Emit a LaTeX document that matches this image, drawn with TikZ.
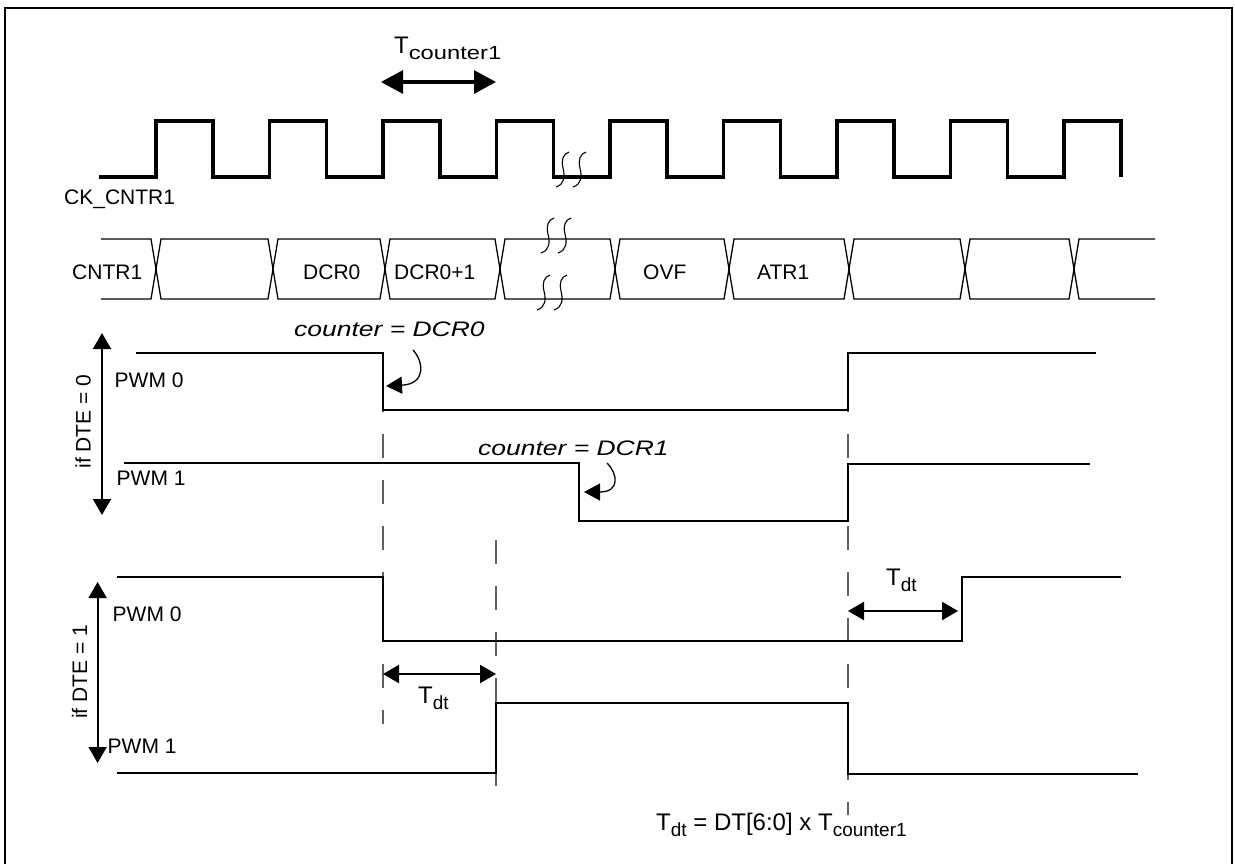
\documentclass[tikz,border=0pt]{standalone}
\usepackage{fontspec}
\setmainfont{Liberation Sans}
\usepackage{graphicx}
\usepackage{tikz}
\usetikzlibrary{arrows.meta, positioning, calc}
\definecolor{guidegray}{RGB}{95, 95, 95}
\newcommand{\lowsub}[1]{\raisebox{-6.5pt}{\fontsize{19}{22}\selectfont #1}}

\begin{document}
\begin{tikzpicture}[x=1pt, y=-1pt,
  clkline/.style={line width=3.3pt},
  sigline/.style={line width=2.2pt},
  busline/.style={line width=1.3pt},
  guideline/.style={guidegray, line width=1.6pt, dash pattern=on 24pt off 22pt},
  dimarrow/.style={line width=2.4pt, >={Triangle[length=16pt, width=18pt]}, <->},
  dimthick/.style={line width=3.3pt, >={Triangle[length=22pt, width=23pt]}, <->},
  dtearrow/.style={line width=1.8pt, >={Triangle[length=16pt, width=18pt]}, <->},
  curlyarrow/.style={line width=1.3pt, >={Triangle[length=16pt, width=17pt]}, ->},
  lbl/.style={inner sep=0pt, anchor=base west, font=\fontsize{21}{25}\selectfont},
  tlbl/.style={inner sep=0pt, anchor=base west, font=\fontsize{24}{28}\selectfont},
  brk/.pic={\draw[line width=1.1pt] (6,-18) .. controls (0,-16) and (-2,-10) .. (0,-2) .. controls (2,6) and (2,14) .. (-7,17);}
]
  \useasboundingbox[fill=white] (0,0) rectangle (1235,863);
  \draw[line width=2pt] (5,880) -- (5,8) -- (1232,8) -- (1232,880);

  % clock
  \draw[clkline] (99,177) \foreach \r in {156,269.5,383,496.5,610,723.5,837,950.5,1064} { -- (\r,177) -- (\r,121) -- (\r+57,121) -- (\r+57,177) };
  \node[lbl] (ckname) at (64,204) {CK\_CNTR1};
  \node[tlbl] (tcnt) at (394,53) {T\lowsub{\scalebox{1.25}[1]{counter1}}};
  \coordinate (tcl) at (381,82);
  \coordinate (tcr) at (496,82);
  \draw[dimthick] (tcl) -- (tcr);

  % counter bus
  \draw[busline] (101,239) -- (151,239) -- (156,269) -- (151,299) -- (101,299);
  \foreach \a/\b in {156/273, 273/385, 385/500, 500/615, 615/729, 729/849, 849/965, 965/1074}
    \draw[busline] (\a,269) -- (\a+5,239) -- (\b-5,239) -- (\b,269) -- (\b-5,299) -- (\a+5,299) -- cycle;
  \draw[busline] (1155,239) -- (1079,239) -- (1074,269) -- (1079,299) -- (1155,299);
  \node[lbl] (busname) at (72,279) {CNTR1};
  \node[lbl] (dcr0) at (303,279) {DCR0};
  \node[lbl] (dcr0p) at (394,279) {DCR0+1};
  \node[lbl] (ovf) at (643,279) {OVF};
  \node[lbl] (atr1) at (757,279) {ATR1};
  \foreach \x/\y in {563/170, 580/170, 548/236, 565/236, 544/293, 561/293}
    \pic at (\x,\y) {brk};

  % guides
  \draw[guideline] (383,388) -- (383,724);
  \draw[guideline] (496,540) -- (496,786);
  \draw[guideline] (848,388) -- (848,815);

  % DTE = 0
  \draw[sigline] (136,353) -- (383,353) -- (383,410) -- (848,410) -- (848,353) -- (1096,353);
  \draw[sigline] (124,463) -- (579,463) -- (579,521) -- (848,521) -- (848,464) -- (1090,464);
  \node[lbl] (pwm0a) at (114.5,387.5) {PWM 0};
  \node[lbl] (pwm1a) at (116.5,485) {PWM 1};
  \node[lbl, anchor=center, rotate=90] (dte0) at (83,421.5) {if DTE = 0};
  \coordinate (dte0top) at (102,333);
  \coordinate (dte0bot) at (102,515);
  \draw[dtearrow] (dte0top) -- (dte0bot);
  \node[lbl] (cnt0) at (294,336.5) {\scalebox{1.26}[1]{\itshape counter = DCR0}};
  \coordinate (cnt0tip) at (386,386);
  \draw[curlyarrow] ([shift={(119,13.5)}]cnt0.base west) .. controls (424,362) and (426,384) .. (cnt0tip);
  \node[lbl] (cnt1) at (478,455) {\scalebox{1.26}[1]{\itshape counter = DCR1}};
  \coordinate (cnt1tip) at (584,492);
  \draw[curlyarrow] ([shift={(129,8)}]cnt1.base west) .. controls (618,474) and (620,492) .. (cnt1tip);

  % DTE = 1
  \draw[sigline] (117,577) -- (383,577) -- (383,641) -- (962,641) -- (962,577) -- (1121,577);
  \draw[sigline] (117,773) -- (496,773) -- (496,703) -- (848,703) -- (848,774) -- (1138,774);
  \node[lbl] (pwm0b) at (112.5,621.5) {PWM 0};
  \node[lbl] (pwm1b) at (107.5,753.3) {PWM 1};
  \node[lbl, anchor=center, rotate=90] (dte1) at (79.5,671.7) {if DTE = 1};
  \coordinate (dte1top) at (97.6,582);
  \coordinate (dte1bot) at (97.6,763);
  \draw[dtearrow] (dte1top) -- (dte1bot);
  \coordinate (dtl0) at (383,674);
  \coordinate (dtl1) at (496,674);
  \draw[dimarrow] (dtl0) -- (dtl1);
  \node[tlbl] (tdta) at (418,703) {T\lowsub{dt}};
  \coordinate (dtr0) at (848,611);
  \coordinate (dtr1) at (958,611);
  \draw[dimarrow] (dtr0) -- (dtr1);
  \node[tlbl] (tdtb) at (886,585) {T\lowsub{dt}};
  \node[tlbl] (tdtf) at (656,830) {T\lowsub{dt} = DT[6:0] x T\lowsub{counter1}};
\end{tikzpicture}
\end{document}
